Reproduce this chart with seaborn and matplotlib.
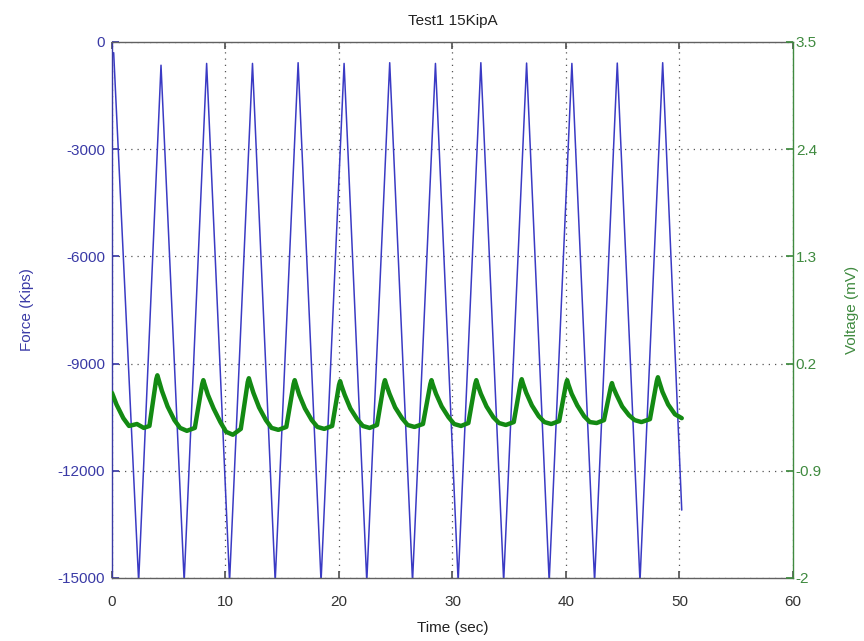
import matplotlib
matplotlib.use("Agg")
import matplotlib.pyplot as plt
import seaborn as sns
import pandas as pd

# Force record: vertices of the loading cycles (time in s, force in kips)
force_time = [0.00, 0.15, 2.35, 4.32, 6.36, 8.34, 10.36, 12.38, 14.38, 16.40,
              18.42, 20.45, 22.45, 24.47, 26.48, 28.50, 30.50, 32.50, 34.51,
              36.53, 38.52, 40.52, 42.52, 44.52, 46.52, 48.52, 50.20]
force_kips = [-350, -300, -15100, -650, -15100, -600, -15100, -600, -15100, -580,
              -15100, -600, -15100, -580, -15100, -600, -15100, -580, -15100,
              -590, -15100, -600, -15100, -590, -15100, -580, -13100]

# Sensor voltage: outline of the response pulses (time in s, voltage in mV)
volt_time = [0.00, 0.40, 1.00, 1.50, 2.20, 2.80, 3.30,
             3.90, 4.00, 4.10, 4.40, 4.90, 5.50, 6.00, 6.60, 7.30,
             7.95, 8.05, 8.15, 8.45, 8.95, 9.55, 10.05, 10.65, 11.35,
             11.96, 12.06, 12.16, 12.46, 12.96, 13.56, 14.06, 14.66, 15.36,
             16.00, 16.10, 16.20, 16.50, 17.00, 17.60, 18.10, 18.70, 19.40,
             20.00, 20.10, 20.20, 20.50, 21.00, 21.60, 22.10, 22.70, 23.35,
             23.95, 24.05, 24.15, 24.45, 24.95, 25.55, 26.05, 26.65, 27.40,
             28.05, 28.15, 28.25, 28.55, 29.05, 29.65, 30.15, 30.75, 31.40,
             32.00, 32.10, 32.20, 32.50, 33.00, 33.60, 34.10, 34.70, 35.40,
             36.00, 36.10, 36.20, 36.50, 37.00, 37.60, 38.10, 38.70, 39.40,
             40.00, 40.10, 40.20, 40.50, 41.00, 41.60, 42.10, 42.70, 43.35,
             43.95, 44.05, 44.15, 44.45, 44.95, 45.55, 46.05, 46.65, 47.40,
             48.00, 48.10, 48.20, 48.50, 49.00, 49.60, 50.20]
volt_mv = [-0.10, -0.22, -0.36, -0.44, -0.42, -0.46, -0.44,
           0.04, 0.08, 0.04, -0.08, -0.24, -0.38, -0.46, -0.49, -0.46,
           -0.01, 0.03, -0.01, -0.12, -0.26, -0.40, -0.50, -0.53, -0.47,
           0.01, 0.05, 0.01, -0.10, -0.25, -0.38, -0.46, -0.48, -0.45,
           -0.01, 0.03, -0.01, -0.12, -0.26, -0.38, -0.45, -0.47, -0.44,
           -0.02, 0.02, -0.02, -0.12, -0.26, -0.37, -0.44, -0.46, -0.43,
           -0.01, 0.03, -0.01, -0.11, -0.25, -0.36, -0.43, -0.45, -0.42,
           -0.01, 0.03, -0.01, -0.11, -0.24, -0.35, -0.42, -0.44, -0.41,
           -0.01, 0.03, -0.01, -0.11, -0.24, -0.35, -0.41, -0.43, -0.40,
           0.00, 0.04, 0.00, -0.10, -0.23, -0.34, -0.40, -0.42, -0.39,
           -0.01, 0.03, -0.01, -0.11, -0.23, -0.34, -0.40, -0.41, -0.38,
           -0.04, 0.00, -0.04, -0.12, -0.24, -0.33, -0.38, -0.40, -0.37,
           0.02, 0.06, 0.02, -0.09, -0.22, -0.32, -0.36]

x_ticks = [0, 10, 20, 30, 40, 50, 60]
force_ticks = [-15000, -12000, -9000, -6000, -3000, 0]
volt_ticks = [-2, -0.9, 0.2, 1.3, 2.4, 3.5]

force_df = pd.DataFrame({"time": force_time, "force": force_kips})
volt_df = pd.DataFrame({"time": volt_time, "volt": volt_mv})

sns.set_theme(style="white")
plt.rcParams["font.family"] = ["Liberation Sans", "DejaVu Sans"]
plt.rcParams["axes.unicode_minus"] = False

BLUE_LINE = "#3a3ac4"
BLUE_AX = "#3a3aa6"
GREEN_LINE = "#138a13"
GREEN_AX = "#3f8a3f"
GRID = "#555555"
FS = 11

fig = plt.figure(figsize=(8.64, 6.41), dpi=100)
ax = fig.add_axes([0.1296, 0.0983, 0.7882, 0.8362])
ax2 = ax.twinx()

sns.lineplot(data=force_df, x="time", y="force", ax=ax, color=BLUE_LINE,
             linewidth=1.1, sort=False, estimator=None)
sns.lineplot(data=volt_df, x="time", y="volt", ax=ax2, color=GREEN_LINE,
             linewidth=3.2, sort=False, estimator=None)

ax.set_xlim(0, 60)
ax.set_ylim(-15000, 0)
ax2.set_ylim(-2, 3.5)

ax.set_xticks(x_ticks)
ax.set_xticklabels([str(v) for v in x_ticks], fontsize=FS, color="#333333")
ax.set_yticks(force_ticks)
ax.set_yticklabels([str(v) for v in force_ticks], fontsize=FS, color=BLUE_AX)
ax2.set_yticks(volt_ticks)
ax2.set_yticklabels([f"{v:g}" for v in volt_ticks], fontsize=FS, color=GREEN_AX)

ax.grid(True, linestyle=(0, (1, 4)), color=GRID, linewidth=0.9)
ax2.grid(False)

ax.tick_params(axis="x", direction="in", length=5, top=True, bottom=True,
               color="#555555", pad=12)
ax.tick_params(axis="y", direction="in", length=5, left=True, right=False,
               color=BLUE_AX, pad=5)
ax2.tick_params(axis="y", direction="in", length=5, right=True, left=False,
                color=GREEN_AX, pad=2)

for side in ("top", "bottom"):
    ax.spines[side].set_color("#606060")
ax.spines["left"].set_color(BLUE_AX)
ax2.spines["left"].set_visible(False)
ax2.spines["top"].set_visible(False)
ax2.spines["bottom"].set_visible(False)
ax.spines["right"].set_visible(False)
ax2.spines["right"].set_color(GREEN_AX)
for sp in list(ax.spines.values()) + list(ax2.spines.values()):
    sp.set_linewidth(1.0)

ax.set_title("Test1 15KipA", fontsize=FS, color="#222222", pad=12)
ax.set_xlabel("Time (sec)", fontsize=FS, color="#222222", labelpad=9)
ax.set_ylabel("Force (Kips)", fontsize=FS, color=BLUE_AX, labelpad=17)
ax2.set_ylabel("Voltage (mV)", fontsize=FS, color=GREEN_AX, labelpad=17)

fig.savefig("out.png", dpi=100, facecolor="white")
